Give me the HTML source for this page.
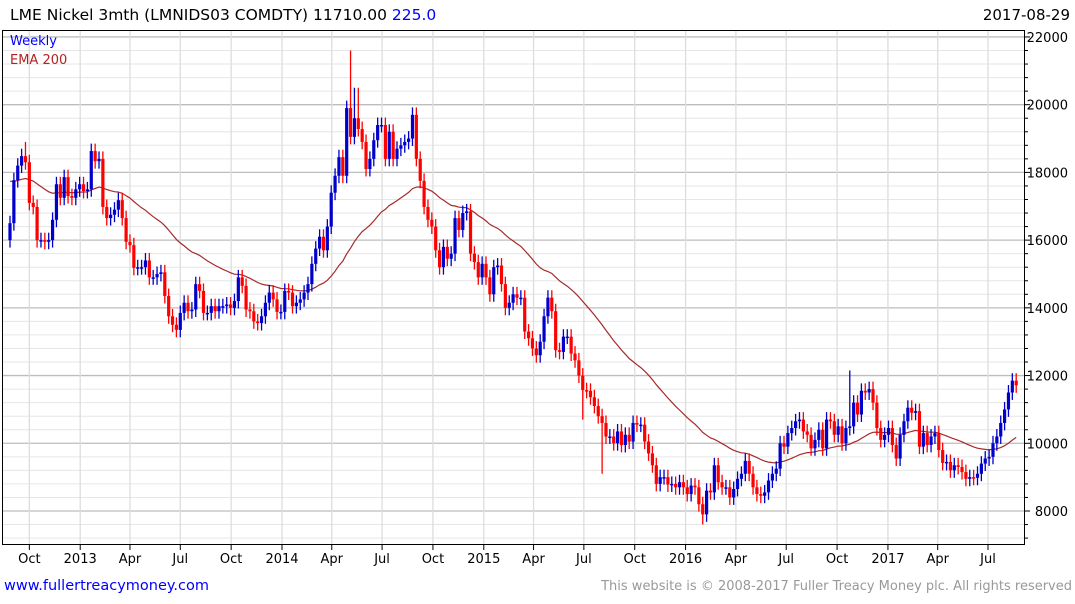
<!DOCTYPE html>
<html><head><meta charset="utf-8"><style>
body{margin:0;background:#fff;width:1075px;height:600px;overflow:hidden;font-family:"DejaVu Sans","Liberation Sans",sans-serif}
</style></head><body>
<svg id="chart" width="1075" height="600" xmlns="http://www.w3.org/2000/svg" font-family="DejaVu Sans, Liberation Sans, sans-serif">
<text x="10" y="20" font-size="15.5" fill="#000">LME Nickel 3mth (LMNIDS03 COMDTY) 11710.00 <tspan fill="#0000ff">225.0</tspan></text>
<text x="1070" y="20" font-size="15" fill="#000" text-anchor="end">2017-08-29</text>
<g id="grid"></g>
<g id="ema"></g>
<g id="candles"></g>
<rect x="2.5" y="30.5" width="1022" height="514" fill="none" stroke="#000" stroke-width="1"/>
<g id="axes"></g>
<text x="10" y="45" font-size="13" fill="#0000ff">Weekly</text>
<text x="10" y="64" font-size="13" fill="#b22222">EMA 200</text>
<text x="4" y="590" font-size="14.5" fill="#0000ff">www.fullertreacymoney.com</text>
<text x="1072" y="590" font-size="13" fill="#999" text-anchor="end">This website is © 2008-2017 Fuller Treacy Money plc. All rights reserved</text>
</svg>
<script>
const closes = [16500,17770,18200,18480,18300,17100,16980,16000,16000,15950,
16000,16600,17650,17250,17860,17300,17250,17500,17650,17450,
17500,18630,18330,18400,16980,16650,16750,16900,17180,16650,
15950,15850,15180,15200,15200,15400,14900,14900,15000,15050,
14350,13750,13500,13350,13850,14150,13900,13950,14700,14500,
13850,13850,14050,13900,14050,14050,14100,14000,14200,14900,
14650,13950,13900,13600,13550,13750,14150,14450,14250,13880,
13880,14500,14450,14050,14150,14250,14450,14700,15300,15750,
16100,15700,16400,17400,17900,18450,17900,
19900,19050,19600,19280,18900,18100,18400,18950,19400,19400,
18400,19200,18400,18700,18800,18900,19000,19700,18400,17750,
16980,16600,16400,15700,15200,15800,15450,15600,16650,16300,
16800,16850,15600,15350,14900,15300,14900,14400,15200,15250,
14700,14000,14150,14400,14300,14300,13300,13100,12800,12600,
13000,13750,14300,13900,12750,12700,13150,13150,12650,12450,
12000,11570,11550,11360,11100,10800,10600,10200,10200,10000,
10350,9950,10250,10050,10600,10550,10550,10050,9700,9350,
8800,9000,9000,8780,
8800,8700,8850,8700,8500,8750,8700,8200,7900,8600,
8550,9350,8850,8700,8700,8400,8650,8950,9100,9480,
9100,8700,8500,8450,8550,8900,9100,9250,10000,9900,
10300,10450,10650,10700,10350,10250,9850,10100,10400,9850,
10700,10650,10250,10500,10000,10450,10500,11200,10850,11550,
11500,11600,11200,10450,10100,10250,10450,9950,9550,10250,
10650,11050,10900,10950,9900,10300,9950,10200,10300,9800,
9420,9450,9200,9350,9300,9150,8950,9000,8980,9100,
9400,9550,9600,10000,10200,10600,11000,11500,11850,11710];
const firstOpen = 16000;
const wickExtras = [[88,21600],[4,18900],[148,10700],[153,9100],[179,7600],[217,12150],[89,20500],[90,20500]];
const emaSeed = 17800;
const emaSpan = 40;
const yTicks = [8000,10000,12000,14000,16000,18000,20000,22000];
const xTickLabels = ["Oct","2013","Apr","Jul","Oct","2014","Apr","Jul","Oct","2015","Apr","Jul","Oct","2016","Apr","Jul","Oct","2017","Apr","Jul"];
const xTickDates = ["2012-10-01","2013-01-01","2013-04-01","2013-07-01","2013-10-01","2014-01-01","2014-04-01","2014-07-01","2014-10-01","2015-01-01","2015-04-01","2015-07-01","2015-10-01","2016-01-01","2016-04-01","2016-07-01","2016-10-01","2017-01-01","2017-04-01","2017-07-01"];
const startDate = "2012-08-27";

const NS="http://www.w3.org/2000/svg";
const PL=3,PR=1024,PT=31,PB=544;
const y=p=>511-(p-8000)*0.03386;
const xi=i=>10+i*3.87;
const xd=d=>10+((new Date(d)-new Date(startDate))/604800000)*3.87;
function mk(tag,attrs,parent){const e=document.createElementNS(NS,tag);for(const k in attrs)e.setAttribute(k,attrs[k]);parent.appendChild(e);return e;}
const grid=document.getElementById('grid'),axes=document.getElementById('axes');
for(let p=7200;p<=22800;p+=400){const yy=y(p);if(yy<PT||yy>PB)continue;
 const major=p%2000===0;
 const l=mk('line',{x1:PL,x2:PR,y1:yy,y2:yy,stroke:major?'#bdbdbd':'#e6e6e6','stroke-width':major?1.3:1},grid);
 
 
 const t=mk('line',{x1:PR,x2:PR+(major?6:4),y1:yy,y2:yy,stroke:'#000'},axes);
 
 
}
yTicks.forEach(v=>{const t=mk('text',{x:1068,y:y(v)+5,'font-size':13,'text-anchor':'end',fill:'#000'},axes);t.textContent=v;
 
 });
xTickDates.forEach((d,i)=>{const xx=xd(d);
 const g=mk('line',{x1:xx,x2:xx,y1:PT,y2:PB,stroke:'#dddddd','stroke-width':1.3},grid);
 
 
 const t=mk('line',{x1:xx,x2:xx,y1:PB,y2:PB+6,stroke:'#000'},axes);
 
 
 const l=mk('text',{x:xx,y:563,'font-size':13,'text-anchor':'middle',fill:'#000'},axes);l.textContent=xTickLabels[i];
 
 
});
const a=2/(emaSpan+1);let e=emaSeed;const pts=[];
closes.forEach((c,i)=>{e=e+a*(c-e);pts.push(xi(i).toFixed(1)+','+y(e).toFixed(1));});
const em=mk('polyline',{points:pts.join(' '),fill:'none',stroke:'#a52a2a','stroke-width':1.2},document.getElementById('ema'));


const cg=document.getElementById('candles');
const extra={};wickExtras.forEach(([i,v])=>extra[i]=v);
closes.forEach((c,i)=>{
 const o=i===0?firstOpen:closes[i-1];
 const up=c>=o;const col=up?'#0000cc':'#ff0000';
 let hi=Math.max(o,c)+220,lo=Math.min(o,c)-220;
 if(extra[i]!==undefined){if(extra[i]>hi)hi=extra[i];else lo=extra[i];}
 const xx=xi(i);
 const g=mk('g',{},cg);
 
 
 mk('line',{x1:xx,x2:xx,y1:y(hi),y2:y(lo),stroke:col,'stroke-width':1.3},g);
 const top=y(Math.max(o,c)),h=Math.max(1.5,y(Math.min(o,c))-top);
 mk('rect',{x:xx-1.6,y:top,width:3.2,height:h,fill:col},g);
});
</script>
</body></html>
